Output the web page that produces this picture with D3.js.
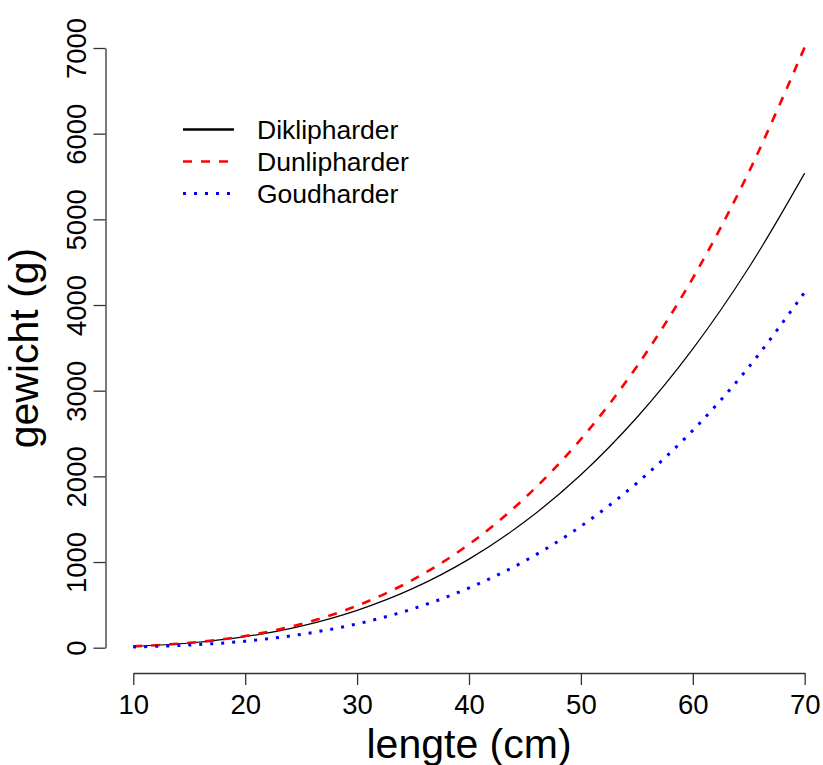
<!DOCTYPE html>
<html>
<head>
<meta charset="utf-8">
<script src="https://cdnjs.cloudflare.com/ajax/libs/d3/7.8.5/d3.min.js"></script>
<style>
  body { margin: 0; background: #fff; }
  text { font-family: "Liberation Sans", Arial, sans-serif; }
</style>
</head>
<body>
<div id="chart"></div>
<script>
// lengths (cm) and weights (g)
var lengths      = [10, 15, 20, 25, 30, 35, 40, 45, 50, 55, 60, 65, 70];
var diklipharder = [16, 55, 129, 252, 436, 692, 1034, 1472, 2019, 2687, 3488, 4435, 5540];
var dunlipharder = [16, 56, 137, 276, 490, 794, 1207, 1749, 2434, 3283, 4314, 5550, 7010];
var goudharder   = [8, 31, 76, 156, 278, 455, 697, 1013, 1418, 1922, 2537, 3275, 4150];
var xTicks = [10, 20, 30, 40, 50, 60, 70];
var yTicks = [0, 1000, 2000, 3000, 4000, 5000, 6000, 7000];
var seriesNames = ["Diklipharder", "Dunlipharder", "Goudharder"];

var width = 823, height = 765;
var svg = d3.select("#chart").append("svg")
    .attr("width", width).attr("height", height);

var x = d3.scaleLinear().domain([10, 70]).range([133.3, 804.7]);
var y = d3.scaleLinear().domain([0, 7000]).range([647.7, 48]);

// x axis
var xAxis = svg.append("g")
    .attr("transform", "translate(0,673)")
    .call(d3.axisBottom(x).tickValues(xTicks).tickFormat(d3.format("d"))
        .tickSize(12).tickSizeOuter(0));
xAxis.select(".domain").attr("stroke", "#333").attr("stroke-width", 1.3);
xAxis.selectAll(".tick line").attr("stroke", "#333").attr("stroke-width", 1.3);
xAxis.selectAll(".tick text").attr("font-size", 27.5).attr("fill", "#000")
    .attr("dy", null).attr("y", 41);

// y axis, labels rotated like in R
var yAxis = svg.append("g")
    .attr("transform", "translate(105.5,0)")
    .call(d3.axisLeft(y).tickValues(yTicks).tickFormat(d3.format("d"))
        .tickSize(12).tickSizeOuter(0));
yAxis.select(".domain").attr("stroke", "#333").attr("stroke-width", 1.3);
yAxis.selectAll(".tick line").attr("stroke", "#333").attr("stroke-width", 1.3);
yAxis.selectAll(".tick text")
    .attr("font-size", 27.5).attr("fill", "#000")
    .attr("x", null).attr("dy", null)
    .attr("text-anchor", "middle")
    .attr("transform", "translate(-19.5,0) rotate(-90)");

// axis titles
svg.append("text")
    .attr("x", 469).attr("y", 758)
    .attr("text-anchor", "middle")
    .attr("font-size", 41)
    .text("lengte (cm)");
svg.append("text")
    .attr("transform", "translate(38,348) rotate(-90)")
    .attr("text-anchor", "middle")
    .attr("font-size", 41)
    .text("gewicht (g)");

var line = d3.line()
    .x(function (d, i) { return x(lengths[i]); })
    .y(function (d) { return y(d); })
    .curve(d3.curveCatmullRom);

var styles = [
    {data: diklipharder, color: "#000", width: 1.2, dash: null, legendWidth: 2.4},
    {data: dunlipharder, color: "#ff0000", width: 2.6, dash: "9,9", legendWidth: 2.6},
    {data: goudharder, color: "#0000ff", width: 3, dash: "3,8", legendWidth: 3}
];

styles.forEach(function (s) {
    svg.append("path")
        .datum(s.data)
        .attr("d", line)
        .attr("fill", "none")
        .attr("stroke", s.color)
        .attr("stroke-width", s.width)
        .attr("stroke-dasharray", s.dash);
});

// legend
var legend = svg.append("g").selectAll("g")
    .data(seriesNames)
    .enter().append("g")
    .attr("transform", function (d, i) { return "translate(0," + (129.5 + i * 32) + ")"; });
legend.append("line")
    .attr("x1", 183).attr("x2", 234)
    .attr("stroke", function (d, i) { return styles[i].color; })
    .attr("stroke-width", function (d, i) { return styles[i].legendWidth; })
    .attr("stroke-dasharray", function (d, i) { return styles[i].dash; });
legend.append("text")
    .attr("x", 257).attr("y", 9.5)
    .attr("font-size", 26.5)
    .text(function (d) { return d; });
</script>
</body>
</html>
